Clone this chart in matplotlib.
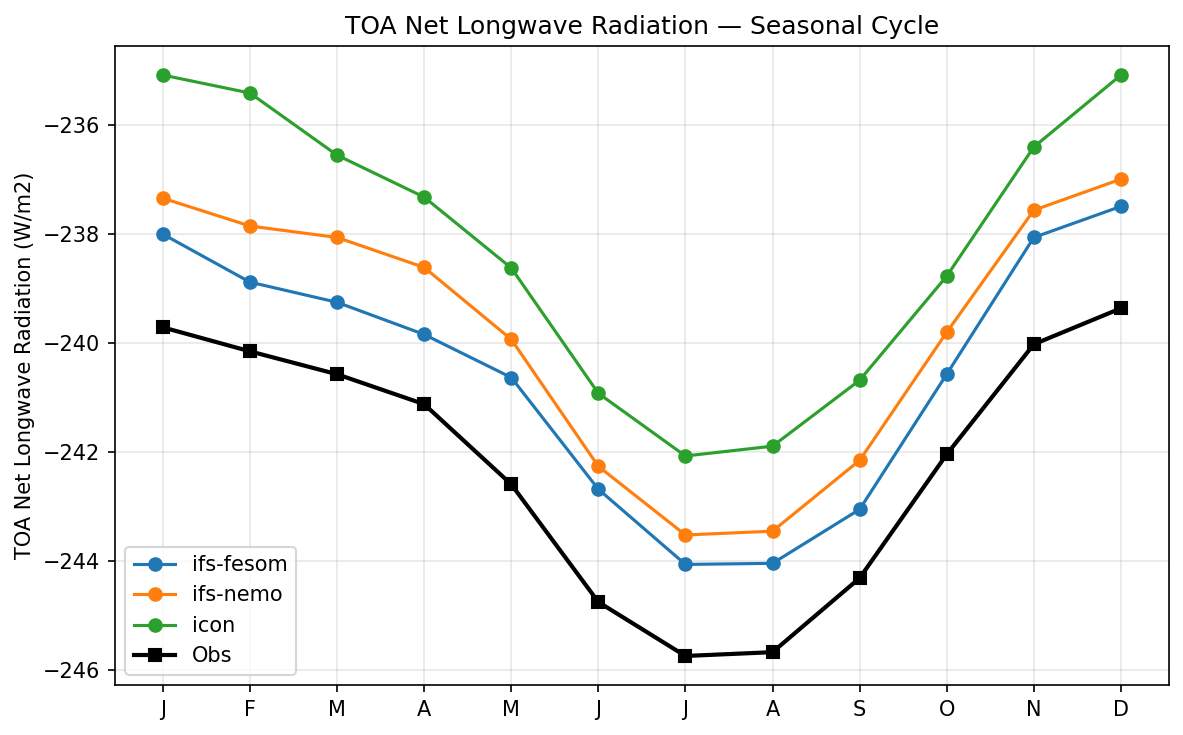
import matplotlib
matplotlib.use("Agg")
import matplotlib.pyplot as plt

months = ["J", "F", "M", "A", "M", "J", "J", "A", "S", "O", "N", "D"]
ifs_fesom = [-238.00, -238.88, -239.25, -239.84, -240.63, -242.68, -244.06, -244.04, -243.05, -240.57, -238.06, -237.49]
ifs_nemo = [-237.34, -237.85, -238.06, -238.61, -239.93, -242.26, -243.52, -243.45, -242.15, -239.80, -237.56, -236.99]
icon = [-235.08, -235.41, -236.55, -237.32, -238.62, -240.92, -242.07, -241.89, -240.68, -238.77, -236.40, -235.08]
obs = [-239.71, -240.15, -240.57, -241.12, -242.59, -244.75, -245.74, -245.67, -244.31, -242.04, -240.02, -239.36]

fig, ax = plt.subplots(figsize=(1183/150, 735/150), dpi=150)
x = list(range(1, 13))
ax.plot(x, ifs_fesom, marker="o", color="#1f77b4", lw=1.5, label="ifs-fesom")
ax.plot(x, ifs_nemo, marker="o", color="#ff7f0e", lw=1.5, label="ifs-nemo")
ax.plot(x, icon, marker="o", color="#2ca02c", lw=1.5, label="icon")
ax.plot(x, obs, marker="s", color="black", lw=2, label="Obs")
ax.set_xticks(x)
ax.set_xticklabels(months)
ax.set_ylabel("TOA Net Longwave Radiation (W/m2)")
ax.set_title("TOA Net Longwave Radiation — Seasonal Cycle")
ax.grid(True, alpha=0.3)
ax.legend(loc="lower left")
fig.subplots_adjust(left=0.0972, right=0.988, top=0.9374, bottom=0.068)
fig.savefig("out.png", dpi=150)
